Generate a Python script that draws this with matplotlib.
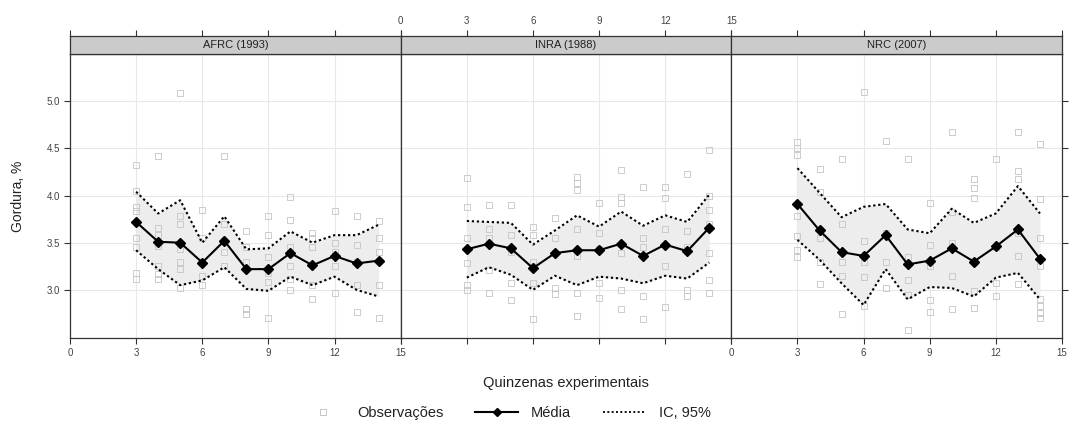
import numpy as np
import matplotlib
matplotlib.use("Agg")
import matplotlib.pyplot as plt
from matplotlib.lines import Line2D

plt.rcParams['font.family'] = ['Liberation Sans', 'DejaVu Sans']

panels = ["AFRC (1993)", "INRA (1988)", "NRC (2007)"]
quinzenas = [3, 4, 5, 6, 7, 8, 9, 10, 11, 12, 13, 14]

media_afrc = [3.72, 3.51, 3.50, 3.29, 3.52, 3.22, 3.22, 3.39, 3.26, 3.36, 3.28, 3.31]
sup_afrc = [4.04, 3.81, 3.95, 3.50, 3.78, 3.43, 3.44, 3.62, 3.50, 3.58, 3.58, 3.69]
inf_afrc = [3.42, 3.22, 3.05, 3.10, 3.24, 3.01, 2.99, 3.14, 3.05, 3.14, 3.00, 2.93]

media_inra = [3.43, 3.49, 3.44, 3.23, 3.39, 3.42, 3.42, 3.49, 3.36, 3.48, 3.41, 3.66]
sup_inra = [3.73, 3.72, 3.71, 3.48, 3.63, 3.79, 3.67, 3.83, 3.68, 3.79, 3.72, 4.01]
inf_inra = [3.13, 3.24, 3.16, 3.00, 3.15, 3.05, 3.14, 3.12, 3.07, 3.15, 3.12, 3.29]

media_nrc = [3.91, 3.63, 3.40, 3.36, 3.58, 3.27, 3.31, 3.44, 3.30, 3.46, 3.64, 3.33]
sup_nrc = [4.29, 4.03, 3.77, 3.88, 3.91, 3.64, 3.60, 3.86, 3.71, 3.81, 4.10, 3.81]
inf_nrc = [3.53, 3.32, 3.07, 2.84, 3.22, 2.90, 3.03, 3.02, 2.93, 3.13, 3.18, 2.90]

obs_afrc = [
    [4.32, 4.05, 3.88, 3.84, 3.55, 3.45, 3.18, 3.12],
    [4.42, 3.66, 3.58, 3.47, 3.25, 3.17, 3.12],
    [5.09, 3.78, 3.70, 3.43, 3.30, 3.22, 3.02],
    [3.85, 3.55, 3.30, 3.15, 3.05],
    [4.42, 3.70, 3.52, 3.40, 3.25],
    [3.62, 3.45, 3.30, 2.80, 2.74],
    [3.78, 3.58, 3.35, 3.18, 3.08, 2.70],
    [3.98, 3.74, 3.45, 3.25, 3.12, 3.00],
    [3.60, 3.55, 3.45, 3.05, 2.90],
    [3.84, 3.50, 3.40, 3.25, 2.97],
    [3.78, 3.48, 3.30, 3.05, 2.77],
    [3.73, 3.55, 3.40, 3.05, 2.70],
]
obs_inra = [
    [4.19, 3.88, 3.55, 3.28, 3.05, 3.00],
    [3.90, 3.65, 3.55, 3.21, 2.97],
    [3.90, 3.58, 3.40, 3.07, 2.89],
    [3.67, 3.58, 3.30, 3.07, 2.69],
    [3.76, 3.55, 3.39, 3.02, 2.96],
    [4.20, 4.13, 4.06, 3.64, 3.36, 2.97, 2.72],
    [3.92, 3.60, 3.43, 3.07, 2.91],
    [4.27, 3.98, 3.92, 3.39, 3.00, 2.80],
    [4.09, 3.55, 3.45, 2.93, 2.69],
    [4.09, 3.97, 3.65, 3.25, 2.82],
    [4.23, 3.62, 3.45, 3.00, 2.93],
    [4.48, 4.00, 3.85, 3.70, 3.39, 3.11, 2.97],
]
obs_nrc = [
    [4.57, 4.50, 4.43, 3.78, 3.57, 3.42, 3.35],
    [4.28, 4.04, 3.55, 3.30, 3.06],
    [4.39, 3.70, 3.30, 3.15, 2.74],
    [5.10, 3.52, 3.30, 3.14, 2.83],
    [4.58, 3.60, 3.30, 3.02],
    [4.39, 3.35, 3.11, 2.95, 2.58],
    [3.92, 3.48, 3.25, 2.89, 2.77],
    [4.67, 3.83, 3.50, 3.15, 2.80],
    [4.18, 4.08, 3.97, 3.30, 2.99, 2.81],
    [4.39, 3.45, 3.07, 2.93],
    [4.67, 4.26, 4.18, 3.60, 3.36, 3.06],
    [4.55, 3.96, 3.55, 3.25, 2.90, 2.83, 2.76, 2.70],
]

medias = [media_afrc, media_inra, media_nrc]
sups = [sup_afrc, sup_inra, sup_nrc]
infs = [inf_afrc, inf_inra, inf_nrc]
obss = [obs_afrc, obs_inra, obs_nrc]

xticks = [0, 3, 6, 9, 12, 15]
yticks = [3.0, 3.5, 4.0, 4.5, 5.0]

W, H = 1071, 428
fig = plt.figure(figsize=(W / 100, H / 100), dpi=100)

left_px, right_px = 70, 1062
top_px, bot_px = 54, 338
strip_top = 36
pw = (right_px - left_px) / 3

grid_c = "#e8e8e8"
obs_c = "#c4c4c4"
band_c = "#ededed"
fs_tick = 7
tick_c = "#444444"

for i in range(3):
    x0 = left_px + i * pw
    ax = fig.add_axes([x0 / W, 1 - bot_px / H, pw / W, (bot_px - top_px) / H])
    sax = fig.add_axes([x0 / W, 1 - top_px / H, pw / W, (top_px - strip_top) / H])

    ax.set_xlim(0, 15)
    ax.set_ylim(2.49, 5.5)
    for xv in [3, 6, 9, 12]:
        ax.axvline(xv, color=grid_c, lw=0.8, zorder=0)
    for yv in yticks:
        ax.axhline(yv, color=grid_c, lw=0.8, zorder=0)

    ax.fill_between(quinzenas, infs[i], sups[i], color=band_c, lw=0, zorder=1)
    for q, vals in zip(quinzenas, obss[i]):
        ax.plot([q] * len(vals), vals, ls="none", marker="s", ms=4.0,
                mfc="none", mec=obs_c, mew=0.6, zorder=2)
    ax.plot(quinzenas, sups[i], color="black", ls=(0, (1.1, 1.3)), lw=1.5, zorder=3)
    ax.plot(quinzenas, infs[i], color="black", ls=(0, (1.1, 1.3)), lw=1.5, zorder=3)
    ax.plot(quinzenas, medias[i], color="black", lw=1.5, marker="D", ms=4.8,
            mfc="black", mec="black", zorder=4)

    for sp in ax.spines.values():
        sp.set_color("#333333")
        sp.set_linewidth(0.9)

    ax.set_xticks(xticks)
    ax.set_yticks(yticks)
    ax.tick_params(axis="both", direction="out", length=4, width=0.8,
                   colors="#333333", labelcolor=tick_c, labelsize=fs_tick, pad=3)
    if i == 1:
        ax.set_xticklabels([])
    else:
        ax.set_xticklabels([str(t) for t in xticks])
    if i == 0:
        ax.set_yticklabels([f"{t:.1f}" for t in yticks])
        ax.tick_params(axis="y", left=True, right=False)
    elif i == 2:
        ax.yaxis.tick_right()
        ax.set_yticklabels([])
    else:
        ax.tick_params(axis="y", left=False, right=False, labelleft=False)

    # strip
    sax.set_xlim(0, 15)
    sax.set_ylim(0, 1)
    sax.set_facecolor("#cbcbcb")
    for sp in sax.spines.values():
        sp.set_color("#333333")
        sp.set_linewidth(0.9)
    sax.text(7.5, 0.5, panels[i], ha="center", va="center", fontsize=8, color="#222222")
    sax.set_yticks([])
    sax.xaxis.tick_top()
    sax.set_xticks(xticks)
    sax.tick_params(axis="x", direction="out", length=4, width=0.8,
                    colors="#333333", labelcolor=tick_c, labelsize=fs_tick, pad=3)
    if i == 1:
        sax.set_xticklabels([str(t) for t in xticks])
    else:
        sax.set_xticklabels([])

fig.text(18 / W, 1 - 196 / H, "Gordura, %", rotation=90, ha="center", va="center",
         fontsize=10, color="#222222")
fig.text(566 / W, 1 - 383 / H, "Quinzenas experimentais", ha="center", va="center",
         fontsize=10.5, color="#222222")

handles = [
    Line2D([], [], ls="none", marker="s", ms=4.5, mfc="none", mec=obs_c, mew=0.7),
    Line2D([], [], color="black", lw=1.5, marker="D", ms=4.5),
    Line2D([], [], color="black", ls=(0, (1.1, 1.3)), lw=1.3),
]
leg = fig.legend(handles, ["Observações", "Média", "IC, 95%"], loc="center",
                 bbox_to_anchor=(506 / W, 1 - 413 / H), ncol=3, frameon=False,
                 fontsize=10.5, handlelength=2.9, columnspacing=2.2, handletextpad=0.9)
for t in leg.get_texts():
    t.set_color("#222222")

fig.savefig("out.png", dpi=100)
